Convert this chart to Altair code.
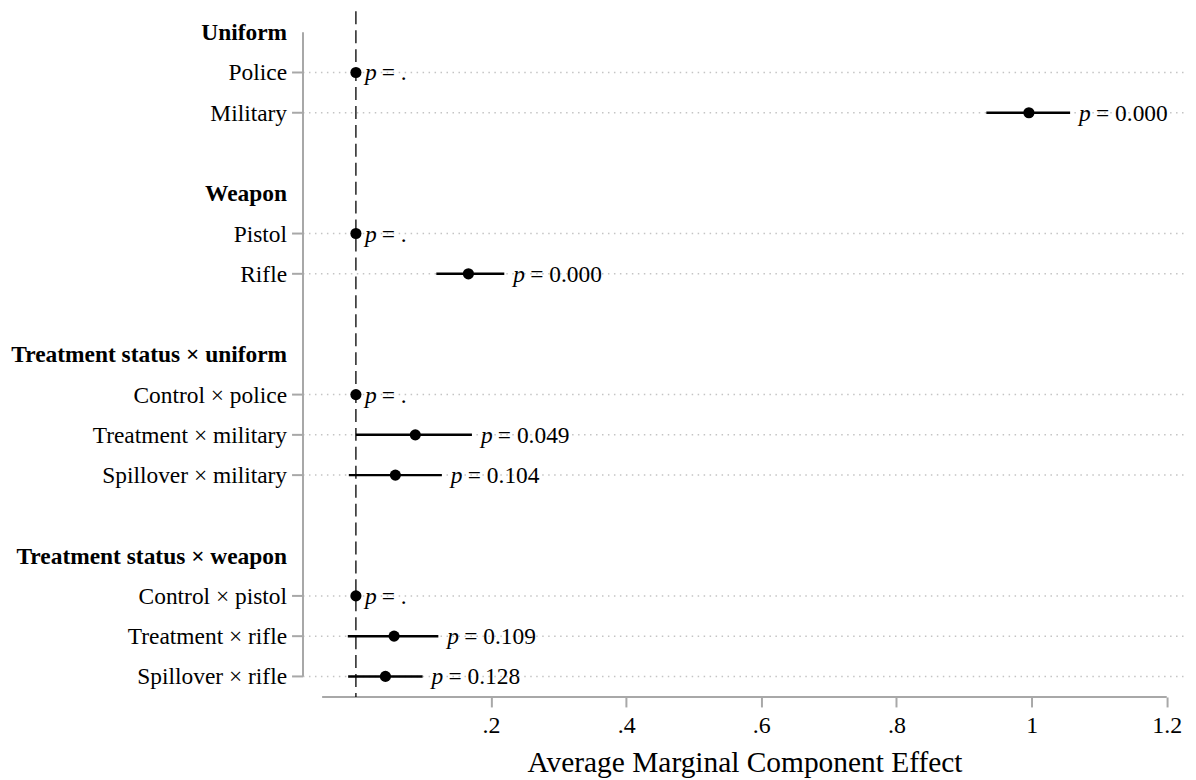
import altair as alt
import pandas as pd

# ---- data ----
layout = ["Uniform", "Police", "Military", None,
          "Weapon", "Pistol", "Rifle", None,
          "Treatment status × uniform", "Control × police", "Treatment × military", "Spillover × military", None,
          "Treatment status × weapon", "Control × pistol", "Treatment × rifle", "Spillover × rifle"]
headers = ["Uniform", "Weapon", "Treatment status × uniform", "Treatment status × weapon"]
terms = ["Police", "Military", "Pistol", "Rifle", "Control × police", "Treatment × military",
         "Spillover × military", "Control × pistol", "Treatment × rifle", "Spillover × rifle"]
estimate = [0.0, 0.996, 0.0, 0.1665, 0.0, 0.0879, 0.0584, 0.0, 0.0565, 0.0437]
ci_low = [0.0, 0.933, 0.0, 0.119, 0.0, 0.0, -0.0105, 0.0, -0.012, -0.0115]
ci_high = [0.0, 1.057, 0.0, 0.2196, 0.0, 0.1717, 0.1272, 0.0, 0.122, 0.0987]
p_text = [".", "0.000", ".", "0.000", ".", "0.049", "0.104", ".", "0.109", "0.128"]
x_ticks = [0.2, 0.4, 0.6, 0.8, 1.0, 1.2]
x_axis_start = -0.05
x_title = "Average Marginal Component Effect"

FONT = "Liberation Serif"
W, H = 886, 688

terms_df = pd.DataFrame({
    "term": terms,
    "row": [layout.index(t) for t in terms],
    "est": estimate,
    "lo": ci_low,
    "hi": ci_high,
    "ptxt": ["= " + p for p in p_text],
})
headers_df = pd.DataFrame({"header": headers, "row": [layout.index(h) for h in headers]})
yline_df = pd.DataFrame({"r0": [0], "r1": [len(layout) - 1]})
xline_df = pd.DataFrame({"x0": [x_axis_start], "x1": [max(x_ticks)]})
zero_df = pd.DataFrame({"zero": [0.0]})

xscale = alt.Scale(domain=[-0.0783, 1.2285], nice=False, zero=False)
yscale = alt.Scale(domain=[-0.52, 16.51], reverse=True, nice=False, zero=False)

x_axis = alt.Axis(
    values=x_ticks,
    labelExpr="datum.value < 1 ? substring(format(datum.value, '.1f'), 1) : format(datum.value, '~g')",
    domain=False, grid=False,
    tickColor="#a8a8a8", tickWidth=2, tickSize=10,
    labelFont=FONT, labelFontSize=24, labelColor="black", labelPadding=7,
    title=x_title, titleFont=FONT, titleFontSize=29.5, titleFontWeight="normal",
    titleColor="black", titlePadding=11,
)
Y = alt.Y("row:Q", scale=yscale, axis=None)

grid = alt.Chart(terms_df).mark_rule(color="#c4c4c4", strokeWidth=1.5, strokeDash=[1.5, 4.5]).encode(
    x=alt.value(0), x2=alt.value(W), y=Y)

yticks = alt.Chart(terms_df).mark_rule(color="#a8a8a8", strokeWidth=2).encode(
    x=alt.value(-11), x2=alt.value(0), y=Y)

yline = alt.Chart(yline_df).mark_rule(color="#a8a8a8", strokeWidth=2).encode(
    x=alt.value(0), y=alt.Y("r0:Q", scale=yscale, axis=None), y2="r1:Q")

xline = alt.Chart(xline_df).mark_rule(color="#a8a8a8", strokeWidth=2).encode(
    x=alt.X("x0:Q", scale=xscale, axis=x_axis), x2="x1:Q", y=alt.value(H))

zero = alt.Chart(zero_df).mark_rule(color="black", strokeWidth=1.3, strokeDash=[13, 6]).encode(
    x=alt.X("zero:Q", scale=xscale, axis=x_axis), y=alt.value(0), y2=alt.value(H))

ci = alt.Chart(terms_df).mark_rule(color="black", strokeWidth=2.5).encode(
    x=alt.X("lo:Q", scale=xscale, axis=x_axis), x2="hi:Q", y=Y)

pts = alt.Chart(terms_df).mark_point(filled=True, color="black", size=125, opacity=1).encode(
    x=alt.X("est:Q", scale=xscale, axis=x_axis), y=Y)

p_it = alt.Chart(terms_df).mark_text(
    text="p", font=FONT, fontSize=23.5, fontStyle="italic", align="left", baseline="middle",
    dx=9, dy=1, color="black").encode(x=alt.X("hi:Q", scale=xscale, axis=x_axis), y=Y)

p_val = alt.Chart(terms_df).mark_text(
    font=FONT, fontSize=23.5, align="left", baseline="middle", dx=26, dy=1, color="black").encode(
    x=alt.X("hi:Q", scale=xscale, axis=x_axis), y=Y, text="ptxt:N")

term_lbl = alt.Chart(terms_df).mark_text(
    font=FONT, fontSize=23.5, align="right", baseline="middle", dx=0, dy=1, color="black").encode(
    x=alt.value(-16), y=Y, text="term:N")

head_lbl = alt.Chart(headers_df).mark_text(
    font=FONT, fontSize=23.5, fontWeight="bold", align="right", baseline="middle", dy=1, color="black").encode(
    x=alt.value(-16), y=Y, text="header:N")

chart = alt.layer(
    grid, yticks, yline, xline, zero, ci, pts, p_it, p_val, term_lbl, head_lbl
).properties(
    width=W, height=H,
    autosize=alt.AutoSizeParams(type="none"),
    padding={"left": 296, "top": 2, "right": 2, "bottom": 80},
    background="white",
).configure_view(stroke=None)

chart.save("out.html", embed_options={"renderer": "svg", "actions": False})
